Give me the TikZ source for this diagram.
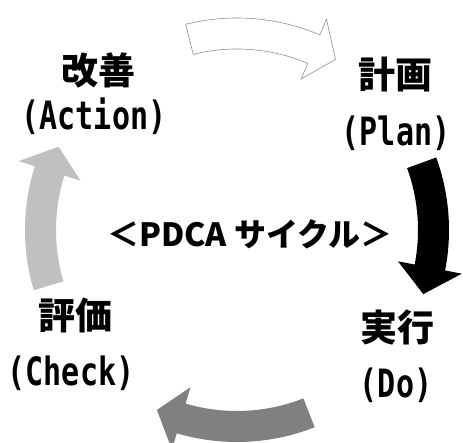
\documentclass[tikz,border=0pt]{standalone}
\usepackage{fontspec}
\usepackage{graphicx}
\setmainfont{Noto Sans CJK JP}
\newfontfamily\monolatin{DejaVu Sans Mono}
\usetikzlibrary{calc}
\definecolor{arrowdark}{HTML}{808080}
\definecolor{arrowlight}{HTML}{C0C0C0}
\definecolor{outlinegray}{HTML}{909090}
\newcommand{\pdcaarrow}[4]{%
  \path[#1] ($(C)+(#2:212)$) arc[start angle=#2, end angle=#3, radius=212]
    -- ($(C)+(#3:229)$) -- ($(C)+(#4:197)$) -- ($(C)+(#3:164)$)
    -- ($(C)+(#3:181)$) arc[start angle=#3, end angle=#2, radius=181] -- cycle;}
\newcommand{\narrowtext}[1]{\scalebox{0.77}[1]{#1}}
\tikzset{
  cjklabel/.style={font=\fontsize{37}{37}\selectfont\bfseries, inner sep=0pt},
  latinlabel/.style={font=\fontsize{39}{39}\selectfont\monolatin\bfseries, inner sep=0pt},
  titlelabel/.style={font=\fontsize{32}{32}\selectfont\bfseries, inner sep=0pt},
}
\begin{document}
\begin{tikzpicture}[x=1pt,y=1pt]
\useasboundingbox (0,0) rectangle (463,442);
\fill[white] (0,0) rectangle (463,442);
\coordinate (C) at (237,212);
% arrows
\pdcaarrow{fill=white, draw=outlinegray, line width=0.6pt}{104}{67}{60}
\pdcaarrow{fill=black}{20}{-11}{-19}
\pdcaarrow{fill=arrowdark}{-68.5}{-106.5}{-114}
\pdcaarrow{fill=arrowlight}{196.5}{162.5}{155}
% labels
\node[cjklabel] (kaizen) at (98,372) {改善};
\node[latinlabel] (action) at (94,326) {\narrowtext{(Action)}};
\node[cjklabel] (keikaku) at (395,367) {計画};
\node[latinlabel] (plan) at (396,309) {\narrowtext{(Plan)}};
\node[cjklabel] (hyouka) at (75,127) {評価};
\node[latinlabel] (check) at (71,69) {\narrowtext{(Check)}};
\node[cjklabel] (jikkou) at (397,115) {実行};
\node[latinlabel] (do) at (396,57) {\narrowtext{(Do)}};
\node[titlelabel] (title) at (250,208) {＜PDCA サイクル＞};
\end{tikzpicture}
\end{document}
